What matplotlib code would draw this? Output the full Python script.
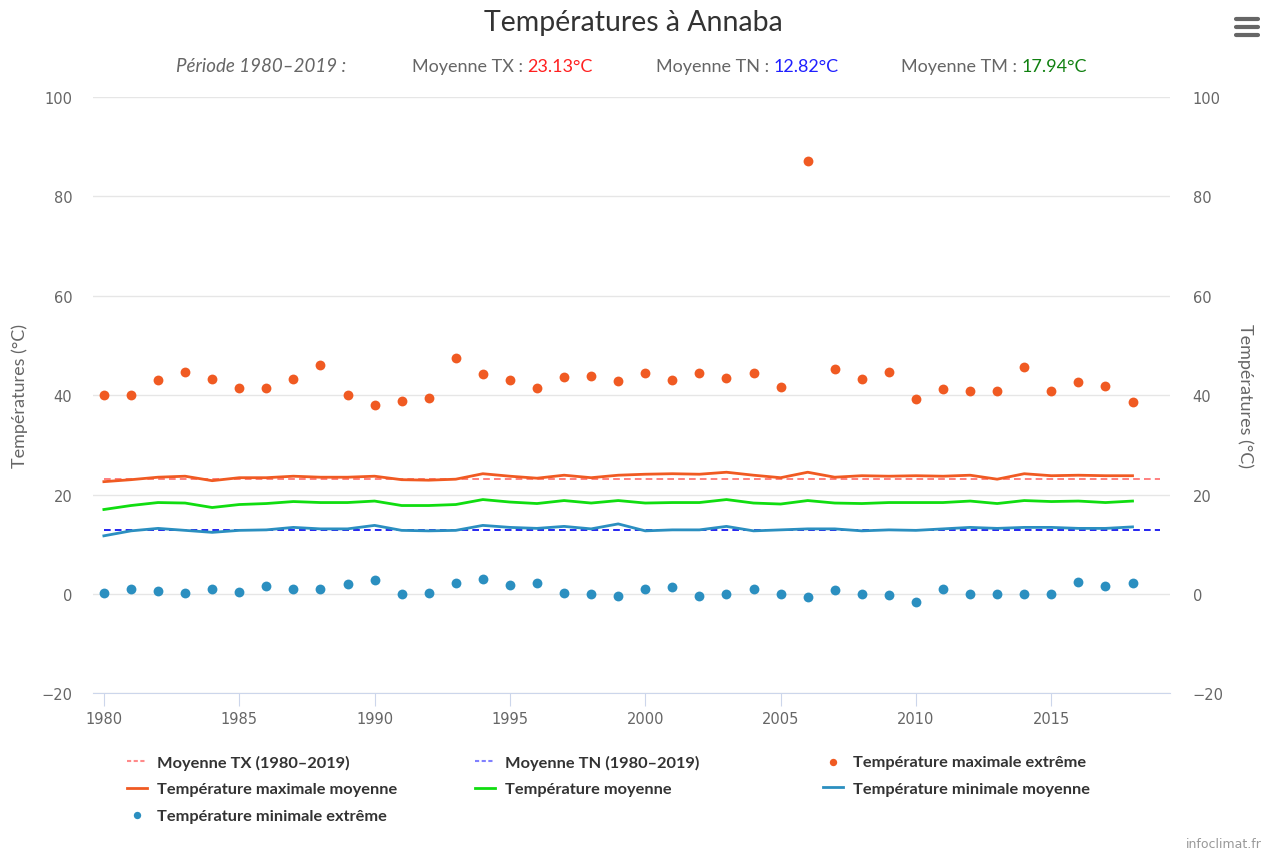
import numpy as np
import matplotlib
matplotlib.use("Agg")
import matplotlib.pyplot as plt
from matplotlib.lines import Line2D

# Données
annees = list(range(1980, 2019))
tx_extreme = [40.0, 40.0, 43.0, 44.7, 43.3, 41.5, 41.5, 43.3, 46.1, 40.1,
              38.1, 38.9, 39.4, 47.5, 44.2, 43.0, 41.5, 43.6, 43.9, 42.8,
              44.4, 43.0, 44.4, 43.4, 44.4, 41.6, 87.1, 45.3, 43.3, 44.7,
              39.2, 41.2, 40.9, 40.9, 45.6, 40.9, 42.7, 41.9, 38.6]
tx_moyenne = [22.6, 23.0, 23.5, 23.7, 22.8, 23.4, 23.4, 23.7, 23.5, 23.5,
              23.7, 23.0, 22.9, 23.1, 24.2, 23.7, 23.3, 23.9, 23.4, 23.9,
              24.1, 24.2, 24.1, 24.5, 23.9, 23.4, 24.5, 23.5, 23.8, 23.7,
              23.8, 23.7, 23.9, 23.1, 24.2, 23.8, 23.9, 23.8, 23.8]
tm_moyenne = [17.0, 17.8, 18.4, 18.3, 17.4, 18.0, 18.2, 18.6, 18.4, 18.4,
              18.7, 17.8, 17.8, 18.0, 19.0, 18.5, 18.2, 18.8, 18.3, 18.8,
              18.3, 18.4, 18.4, 19.0, 18.3, 18.1, 18.8, 18.3, 18.2, 18.4,
              18.4, 18.4, 18.7, 18.2, 18.8, 18.6, 18.7, 18.4, 18.7]
tn_moyenne = [11.7, 12.7, 13.2, 12.8, 12.4, 12.8, 12.9, 13.4, 13.1, 13.1,
              13.8, 12.8, 12.7, 12.8, 13.8, 13.4, 13.2, 13.6, 13.1, 14.1,
              12.7, 12.9, 12.9, 13.6, 12.7, 12.9, 13.1, 13.1, 12.7, 12.9,
              12.8, 13.1, 13.4, 13.2, 13.4, 13.4, 13.2, 13.2, 13.5]
tn_extreme = [0.2, 1.1, 0.6, 0.1, 1.1, 0.3, 1.7, 0.9, 1.1, 2.0,
              2.9, -0.1, 0.2, 2.3, 3.0, 1.8, 2.3, 0.1, 0.0, -0.4,
              1.1, 1.5, -0.4, 0.0, 0.9, 0.0, -0.7, 0.8, 0.0, -0.3,
              -1.7, 1.1, 0.0, 0.0, 0.0, 0.0, 2.5, 1.7, 2.3]
periode = [1980, 2019]
moy_tx = 23.13
moy_tn = 12.82
moy_tm = 17.94

plt.rcParams['font.family'] = ['Lato', 'DejaVu Sans']

c_orange = '#f05a22'
c_bleu = '#2b8fc0'
c_vert = '#10dd10'
gris = '#666666'

fig = plt.figure(figsize=(12.66, 8.53), dpi=100)
ax = fig.add_axes([0.0735, 0.186, 0.851, 0.699])

l_tx, = ax.plot(periode, [moy_tx, moy_tx], color='#ff6b6b', lw=1.2, ls=(0, (4, 2.5)), zorder=2)
l_tn, = ax.plot(periode, [moy_tn, moy_tn], color='#0000ee', lw=1.2, ls=(0, (4, 2.5)), zorder=2)
s_tx = ax.scatter(annees, tx_extreme, s=50, color=c_orange, lw=0, zorder=4)
l_txm, = ax.plot(annees, tx_moyenne, color=c_orange, lw=2, zorder=3)
l_tm, = ax.plot(annees, tm_moyenne, color=c_vert, lw=2, zorder=3)
l_tnm, = ax.plot(annees, tn_moyenne, color=c_bleu, lw=2, zorder=3)
s_tn = ax.scatter(annees, tn_extreme, s=50, color=c_bleu, lw=0, zorder=4)

ax.set_xlim(1979.6, 2019.4)
ax.set_ylim(-20, 100)
ax.set_xticks(range(1980, 2019, 5))
ax.set_yticks(range(-20, 101, 20))
ax.grid(axis='y', color='#e6e6e6', lw=1)
ax.set_axisbelow(True)
for s in ['top', 'left', 'right']:
    ax.spines[s].set_visible(False)
ax.spines['bottom'].set_color('#ccd6eb')
ax.tick_params(axis='x', colors='#ccd6eb', length=9, labelcolor=gris, labelsize=10.5, pad=4)
ax.tick_params(axis='y', length=0, labelcolor=gris, labelsize=10.5, pad=15)
for lab in ax.get_xticklabels() + ax.get_yticklabels():
    lab.set_family('DejaVu Sans')
ax.set_ylabel('Températures (°C)', color=gris, fontsize=13, va='center')
ax.yaxis.set_label_coords(-0.068, 0.5)

ax2 = ax.twinx()
ax2.set_ylim(-20, 100)
ax2.set_yticks(range(-20, 101, 20))
for s in ['top', 'left', 'right', 'bottom']:
    ax2.spines[s].set_visible(False)
ax2.tick_params(axis='y', length=0, labelcolor=gris, labelsize=10.5, pad=16)
for lab in ax2.get_yticklabels():
    lab.set_family('DejaVu Sans')
ax2.set_ylabel('Températures (°C)', color=gris, fontsize=13, rotation=270, va='center')
ax2.yaxis.set_label_coords(1.0696, 0.5)

# Légende : une colonne par légende
d_tx = Line2D([], [], color='#ff8a8a', lw=1.5, ls=(0, (2, 1.2)))
d_tn = Line2D([], [], color='#8080ff', lw=1.5, ls=(0, (2, 1.2)))
colonnes = [
    (127, [d_tx, l_txm, s_tn], ['Moyenne TX (1980–2019)', 'Température maximale moyenne',
                                'Température minimale extrême']),
    (475, [d_tn, l_tm], ['Moyenne TN (1980–2019)', 'Température moyenne']),
    (823, [s_tx, l_tnm], ['Température maximale extrême', 'Température minimale moyenne']),
]
for x0, hs, ls in colonnes:
    leg = fig.legend(hs, ls, loc='upper left', bbox_to_anchor=(x0 / 1266, 1 - 756 / 853),
                     borderaxespad=0, borderpad=0, frameon=False,
                     prop={'weight': 'bold', 'size': 11.8}, handlelength=1.25,
                     labelspacing=0.72, handletextpad=0.6, markerscale=0.75)
    for t in leg.get_texts():
        t.set_color('#333333')

# Titre et sous-titre
fig.text(0.5, 1 - 23 / 853, 'Températures à Annaba', ha='center', va='center', fontsize=20.5, color='#333333')
fig.canvas.draw()
rend = fig.canvas.get_renderer()


def morceaux(x_px, y_px, parts, taille=13):
    x = x_px
    for txt, col, style in parts:
        t = fig.text(x / 1266, 1 - y_px / 853, txt, color=col, fontsize=taille, style=style, va='center')
        x += t.get_window_extent(rend).width


morceaux(176, 67, [('Période 1980–2019 :', gris, 'italic')], taille=13.5)
morceaux(412, 67, [('Moyenne TX : ', gris, 'normal'), (f'{moy_tx:.2f}°C', '#ff2020', 'normal')])
morceaux(656, 67, [('Moyenne TN : ', gris, 'normal'), (f'{moy_tn:.2f}°C', '#2020ff', 'normal')])
morceaux(901, 67, [('Moyenne TM : ', gris, 'normal'), (f'{moy_tm:.2f}°C', '#108010', 'normal')])

# Icône menu
for yy in [20, 28, 36]:
    fig.add_artist(Line2D([1236 / 1266, 1258 / 1266], [1 - yy / 853] * 2, color='#666666', lw=3,
                          solid_capstyle='round'))

fig.text(1262 / 1266, 1 - 845 / 853, 'infoclimat.fr', ha='right', va='center', fontsize=9, color='#999999',
         family='DejaVu Sans')

fig.savefig('out.png', dpi=100)
